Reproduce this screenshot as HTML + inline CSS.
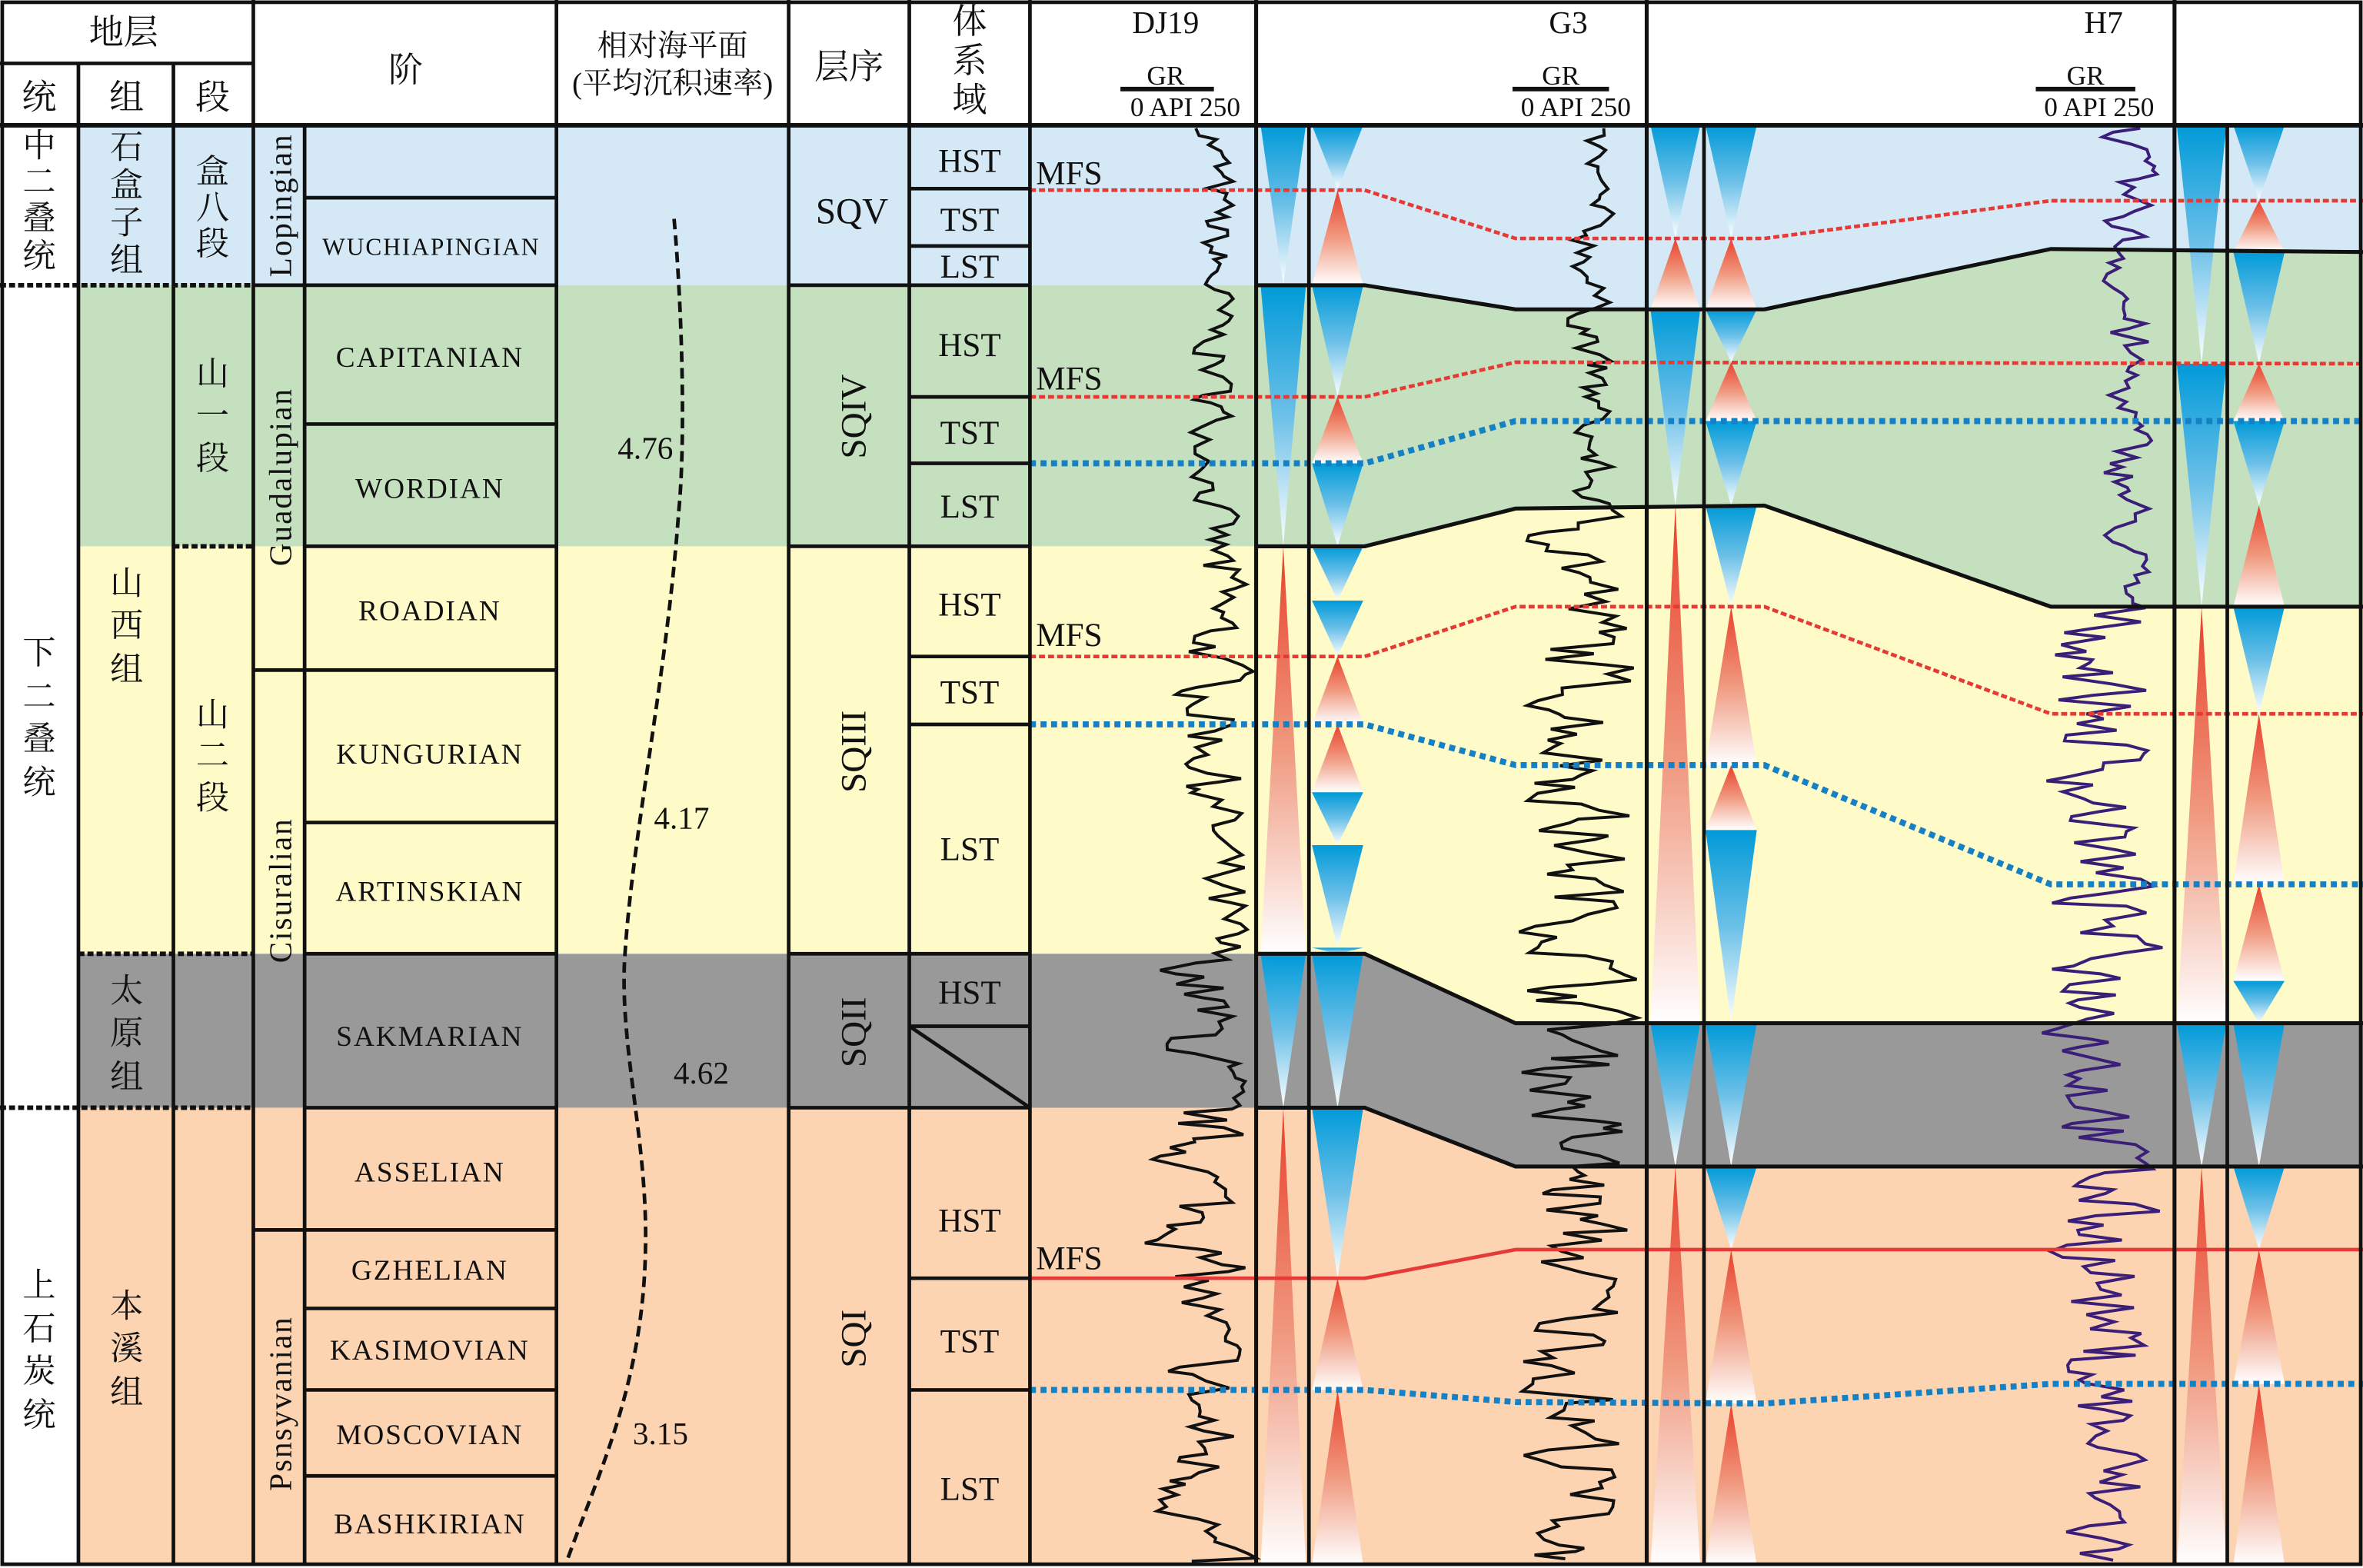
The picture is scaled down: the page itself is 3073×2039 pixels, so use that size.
<!DOCTYPE html>
<html><head><meta charset="utf-8">
<style>
html,body{margin:0;padding:0;background:#fff;}
svg{display:block;}
text{font-family:"Liberation Serif","Noto Serif CJK SC",serif;fill:#111;}
.cn{font-family:"Liberation Serif","Noto Serif CJK SC","Noto Sans CJK SC",serif;}
</style></head>
<body>
<svg id="s" width="3073" height="2039" viewBox="0 0 1567 1039" preserveAspectRatio="none" xmlns="http://www.w3.org/2000/svg">
<defs>
<linearGradient id="gb" x1="0" y1="0" x2="0" y2="1"><stop offset="0" stop-color="#009ad8"/><stop offset="0.5" stop-color="#6cc0e8"/><stop offset="1" stop-color="#ffffff"/></linearGradient>
<linearGradient id="gr" x1="0" y1="0" x2="0" y2="1"><stop offset="0" stop-color="#e8402c"/><stop offset="0.5" stop-color="#f09a80"/><stop offset="1" stop-color="#ffffff"/></linearGradient>
</defs>
<rect x="0" y="0" width="1567" height="1039" fill="#fff"/>
<!-- left bands -->
<rect x="52" y="83" width="631" height="106" fill="#d4e9f5"/>
<rect x="52" y="189" width="631" height="173" fill="#c5e0bf"/>
<rect x="52" y="362" width="631" height="270" fill="#fefbc8"/>
<rect x="52" y="632" width="631" height="102" fill="#999999"/>
<rect x="52" y="734" width="631" height="303" fill="#fdd4b2"/>
<!-- right bands -->
<polygon points="683,83 1567,83 1567,167 1360,165 1170,205 1005,205 905,189 683,189" fill="#d4e9f5"/>
<polygon points="683,189 905,189 1005,205 1170,205 1360,165 1567,167 1567,402 1360,402 1170,335 1005,337 905,362 683,362" fill="#c5e0bf"/>
<polygon points="683,362 905,362 1005,337 1170,335 1360,402 1567,402 1567,678 1005,678 905,632 683,632" fill="#fefbc8"/>
<polygon points="683,632 905,632 1005,678 1567,678 1567,773 1005,773 905,734 683,734" fill="#999999"/>
<polygon points="683,734 905,734 1005,773 1567,773 1567,1037 683,1037" fill="#fdd4b2"/>
<g id="tri"></g>
<g id="curves"></g>
<!-- boundaries -->
<g fill="none" stroke="#111" stroke-width="2.6">
<polyline points="833,189 905,189 1005,205 1170,205 1360,165 1567,167"/>
<polyline points="833,362 905,362 1005,337 1170,335 1360,402 1567,402"/>
<polyline points="833,632 905,632 1005,678 1567,678"/>
<polyline points="833,734 905,734 1005,773 1567,773"/>
</g>
<!-- MFS / blue lines -->
<g fill="none" stroke="#e53a35" stroke-width="2.4" stroke-dasharray="4,2">
<polyline points="683,126 905,126 1005,158 1170,158 1360,133 1567,133"/>
<polyline points="683,263 905,263 1005,240 1567,241"/>
<polyline points="683,435 905,435 1005,402 1170,402 1360,473 1567,473"/>
</g>
<polyline fill="none" stroke="#e53a35" stroke-width="2.4" points="683,847 905,847 1005,828 1567,828"/>
<g fill="none" stroke="#1580c4" stroke-width="4" stroke-dasharray="4,3">
<polyline points="683,307 905,307 1005,279 1567,279"/>
<polyline points="683,480 905,480 1005,507 1170,507 1360,586 1567,586"/>
<polyline points="683,921 905,921 1005,929 1170,930 1360,917 1567,917"/>
</g>
<!-- table lines -->
<g stroke="#111" stroke-width="2.4" fill="none">
<rect x="1.5" y="1.5" width="1564" height="1035"/>
<line x1="0" y1="83" x2="1567" y2="83" stroke-width="3"/>
<line x1="0" y1="42" x2="168" y2="42"/>
<line x1="52" y1="42" x2="52" y2="1037"/>
<line x1="115" y1="42" x2="115" y2="1037"/>
<line x1="168" y1="0" x2="168" y2="1037"/>
<line x1="202" y1="83" x2="202" y2="1037"/>
<line x1="369" y1="0" x2="369" y2="1037"/>
<line x1="523" y1="0" x2="523" y2="1037"/>
<line x1="603" y1="0" x2="603" y2="1037"/>
<line x1="683" y1="0" x2="683" y2="1037"/>
<line x1="833" y1="0" x2="833" y2="1037" stroke-width="2.6"/>
<line x1="868" y1="83" x2="868" y2="1037"/>
<line x1="1092" y1="0" x2="1092" y2="1037" stroke-width="2.6"/>
<line x1="1130" y1="83" x2="1130" y2="1037"/>
<line x1="1442" y1="0" x2="1442" y2="1037" stroke-width="2.6"/>
<line x1="1477" y1="83" x2="1477" y2="1037"/>
<!-- stage lines -->
<line x1="202" y1="131" x2="369" y2="131"/>
<line x1="168" y1="189" x2="369" y2="189"/>
<line x1="202" y1="281" x2="369" y2="281"/>
<line x1="202" y1="362" x2="369" y2="362"/>
<line x1="168" y1="444" x2="369" y2="444"/>
<line x1="202" y1="545" x2="369" y2="545"/>
<line x1="202" y1="632" x2="369" y2="632"/>
<line x1="202" y1="734" x2="369" y2="734"/>
<line x1="168" y1="815" x2="369" y2="815"/>
<line x1="202" y1="867" x2="369" y2="867"/>
<line x1="202" y1="921" x2="369" y2="921"/>
<line x1="202" y1="978" x2="369" y2="978"/>
<!-- sequence lines -->
<line x1="523" y1="189" x2="683" y2="189"/>
<line x1="523" y1="362" x2="683" y2="362"/>
<line x1="523" y1="632" x2="683" y2="632"/>
<line x1="523" y1="734" x2="683" y2="734"/>
<line x1="603" y1="125" x2="683" y2="125"/>
<line x1="603" y1="163" x2="683" y2="163"/>
<line x1="603" y1="263" x2="683" y2="263"/>
<line x1="603" y1="307" x2="683" y2="307"/>
<line x1="603" y1="435" x2="683" y2="435"/>
<line x1="603" y1="480" x2="683" y2="480"/>
<line x1="603" y1="680" x2="683" y2="680"/>
<line x1="603" y1="680" x2="683" y2="734"/>
<line x1="603" y1="847" x2="683" y2="847"/>
<line x1="603" y1="921" x2="683" y2="921"/>
</g>
<g stroke="#111" stroke-width="3" stroke-dasharray="4,2">
<line x1="0" y1="189" x2="168" y2="189"/>
<line x1="115" y1="362" x2="168" y2="362"/>
<line x1="52" y1="632" x2="168" y2="632"/>
<line x1="0" y1="734" x2="168" y2="734"/>
</g>
<!-- sea level curve -->
<path d="M447,145 C452,200 455,290 450,340 C442,450 418,560 414,640 C412,700 430,760 428,830 C426,920 395,980 375,1037" fill="none" stroke="#111" stroke-width="2.4" stroke-dasharray="7,4"/>
<!-- headers -->
<g class="cn" font-size="23" text-anchor="middle">
<text x="82" y="29">地层</text>
<text x="26" y="72">统</text>
<text x="84" y="72">组</text>
<text x="141" y="72">段</text>
<text x="269" y="54">阶</text>
<text x="446" y="37" font-size="20">相对海平面</text>
<text x="446" y="62" font-size="20">(平均沉积速率)</text>
<text x="563" y="52">层序</text>
<text x="643" y="22">体</text>
<text x="643" y="48">系</text>
<text x="643" y="74">域</text>
</g>
<g font-size="21" text-anchor="middle">
<text x="773" y="22">DJ19</text>
<text x="1040" y="22">G3</text>
<text x="1395" y="22">H7</text>
<text x="773" y="56" font-size="18">GR</text>
<text x="1035" y="56" font-size="18">GR</text>
<text x="1383" y="56" font-size="18">GR</text>
<text x="786" y="77" font-size="18">0 API 250</text>
<text x="1045" y="77" font-size="18">0 API 250</text>
<text x="1392" y="77" font-size="18">0 API 250</text>
</g>
<g stroke="#111" stroke-width="3"><line x1="743" y1="59" x2="805" y2="59"/><line x1="1003" y1="59" x2="1067" y2="59"/><line x1="1350" y1="59" x2="1416" y2="59"/></g>
<!-- vertical chinese -->
<g class="cn" font-size="22" text-anchor="middle">
<text x="26" y="104">中</text><text x="26" y="128">二</text><text x="26" y="152">叠</text><text x="26" y="177">统</text>
<text x="26" y="440">下</text><text x="26" y="469">二</text><text x="26" y="497">叠</text><text x="26" y="526">统</text>
<text x="26" y="859">上</text><text x="26" y="888">石</text><text x="26" y="916">炭</text><text x="26" y="945">统</text>
<text x="84" y="105">石</text><text x="84" y="130">盒</text><text x="84" y="155">子</text><text x="84" y="180">组</text>
<text x="84" y="394">山</text><text x="84" y="422">西</text><text x="84" y="451">组</text>
<text x="84" y="664">太</text><text x="84" y="692">原</text><text x="84" y="721">组</text>
<text x="84" y="873">本</text><text x="84" y="901">溪</text><text x="84" y="930">组</text>
<text x="141" y="121">盒</text><text x="141" y="145">八</text><text x="141" y="169">段</text>
<text x="141" y="255">山</text><text x="141" y="283">一</text><text x="141" y="311">段</text>
<text x="141" y="481">山</text><text x="141" y="508">二</text><text x="141" y="536">段</text>
</g>
<!-- series rotated -->
<g font-size="21" text-anchor="middle" letter-spacing="1">
<text transform="translate(193,136) rotate(-90)">Lopingian</text>
<text transform="translate(193,316) rotate(-90)">Guadalupian</text>
<text transform="translate(193,590) rotate(-90)">Cisuralian</text>
<text transform="translate(193,930) rotate(-90)">Psnsyvanian</text>
</g>
<!-- stages -->
<g font-size="19" text-anchor="middle" letter-spacing="1">
<text x="286" y="169" font-size="16">WUCHIAPINGIAN</text>
<text x="285" y="243">CAPITANIAN</text>
<text x="285" y="330">WORDIAN</text>
<text x="285" y="411">ROADIAN</text>
<text x="285" y="506">KUNGURIAN</text>
<text x="285" y="597">ARTINSKIAN</text>
<text x="285" y="693">SAKMARIAN</text>
<text x="285" y="783">ASSELIAN</text>
<text x="285" y="848">GZHELIAN</text>
<text x="285" y="901">KASIMOVIAN</text>
<text x="285" y="957">MOSCOVIAN</text>
<text x="285" y="1016">BASHKIRIAN</text>
</g>
<g font-size="21" text-anchor="middle">
<text x="428" y="304">4.76</text>
<text x="452" y="549">4.17</text>
<text x="465" y="718">4.62</text>
<text x="438" y="957">3.15</text>
<text x="565" y="148" font-size="24">SQV</text>
<text transform="translate(574,276) rotate(-90)" font-size="24">SQIV</text>
<text transform="translate(574,498) rotate(-90)" font-size="24">SQIII</text>
<text transform="translate(574,684) rotate(-90)" font-size="24">SQII</text>
<text transform="translate(574,887) rotate(-90)" font-size="24">SQI</text>
<g font-size="22">
<text x="643" y="114">HST</text><text x="643" y="153">TST</text><text x="643" y="184">LST</text>
<text x="643" y="236">HST</text><text x="643" y="294">TST</text><text x="643" y="343">LST</text>
<text x="643" y="408">HST</text><text x="643" y="466">TST</text><text x="643" y="570">LST</text>
<text x="643" y="665">HST</text>
<text x="643" y="816">HST</text><text x="643" y="896">TST</text><text x="643" y="994">LST</text>
</g>
</g>
<g font-size="22"><text x="687" y="122">MFS</text><text x="687" y="258">MFS</text><text x="687" y="428">MFS</text><text x="687" y="841">MFS</text></g>
</svg>
<script>
(function(){
var NS="http://www.w3.org/2000/svg";
var tri=document.getElementById('tri');
function T(c,w,y0,y1,type){
  var p=document.createElementNS(NS,'polygon');
  var l=c-w/2,r=c+w/2;
  if(type=='b') p.setAttribute('points',l+','+y0+' '+r+','+y0+' '+c+','+y1);
  else p.setAttribute('points',c+','+y0+' '+r+','+y1+' '+l+','+y1);
  p.setAttribute('fill',type=='b'?'url(#gb)':'url(#gr)');
  tri.appendChild(p);
}
var cols=[
 [851,30,[[83,189,'b'],[189,362,'b'],[362,632,'r'],[632,734,'b'],[734,1037,'r']]],
 [887,34,[[83,126,'b'],[126,189,'r'],[189,263,'b'],[263,307,'r'],[307,362,'b'],[362,398,'b'],[398,435,'b'],[435,480,'r'],[480,525,'r'],[525,560,'b'],[560,628,'b'],[628,632,'b'],[632,734,'b'],[734,847,'b'],[847,921,'r'],[921,1037,'r']]],
 [1111,33,[[83,158,'b'],[158,205,'r'],[205,335,'b'],[335,678,'r'],[678,773,'b'],[773,1037,'r']]],
 [1148,34,[[83,158,'b'],[158,205,'r'],[205,240,'b'],[240,279,'r'],[279,335,'b'],[335,402,'b'],[402,507,'r'],[507,550,'r'],[550,678,'b'],[678,773,'b'],[773,828,'b'],[828,930,'r'],[930,1037,'r']]],
 [1460,33,[[83,241,'b'],[241,402,'b'],[402,678,'r'],[678,773,'b'],[773,1037,'r']]],
 [1498,34,[[83,133,'b'],[133,167,'r'],[167,241,'b'],[241,279,'r'],[279,335,'b'],[335,402,'r'],[402,473,'b'],[473,586,'r'],[586,650,'r'],[650,678,'b'],[678,773,'b'],[773,828,'b'],[828,917,'r'],[917,1037,'r']]]
];
cols.forEach(function(c){c[2].forEach(function(s){T(c[0],c[1],s[0],s[1],s[2]);});});
var seed=7;function rnd(){seed=(seed*16807)%2147483647;return seed/2147483647;}
var cg=document.getElementById('curves');
function curve(base,amp,color,sw){
  var d='',v=0,y=85;
  while(y<1035){
    var b=base(y),a=amp(y);
    v=v*0.4+(rnd()-0.5)*2;
    var x=b+v*a;
    d+=(d?'L':'M')+x.toFixed(1)+','+y.toFixed(1);
    y+=2+rnd()*3;
  }
  var p=document.createElementNS(NS,'path');
  p.setAttribute('d',d);p.setAttribute('fill','none');p.setAttribute('stroke',color);p.setAttribute('stroke-width',sw);
  cg.appendChild(p);
}
curve(function(y){return y<632?805:795;},function(y){return y<362?12:(y<632?20:25);},'#111',2);
curve(function(y){return y<340?1055:(y<680?1050:1045);},function(y){return y<340?12:30;},'#111',2);
curve(function(y){return y<400?1410:1395;},function(y){return y<400?14:30;},'#3b1e78',2);
})();
</script>
</body></html>
